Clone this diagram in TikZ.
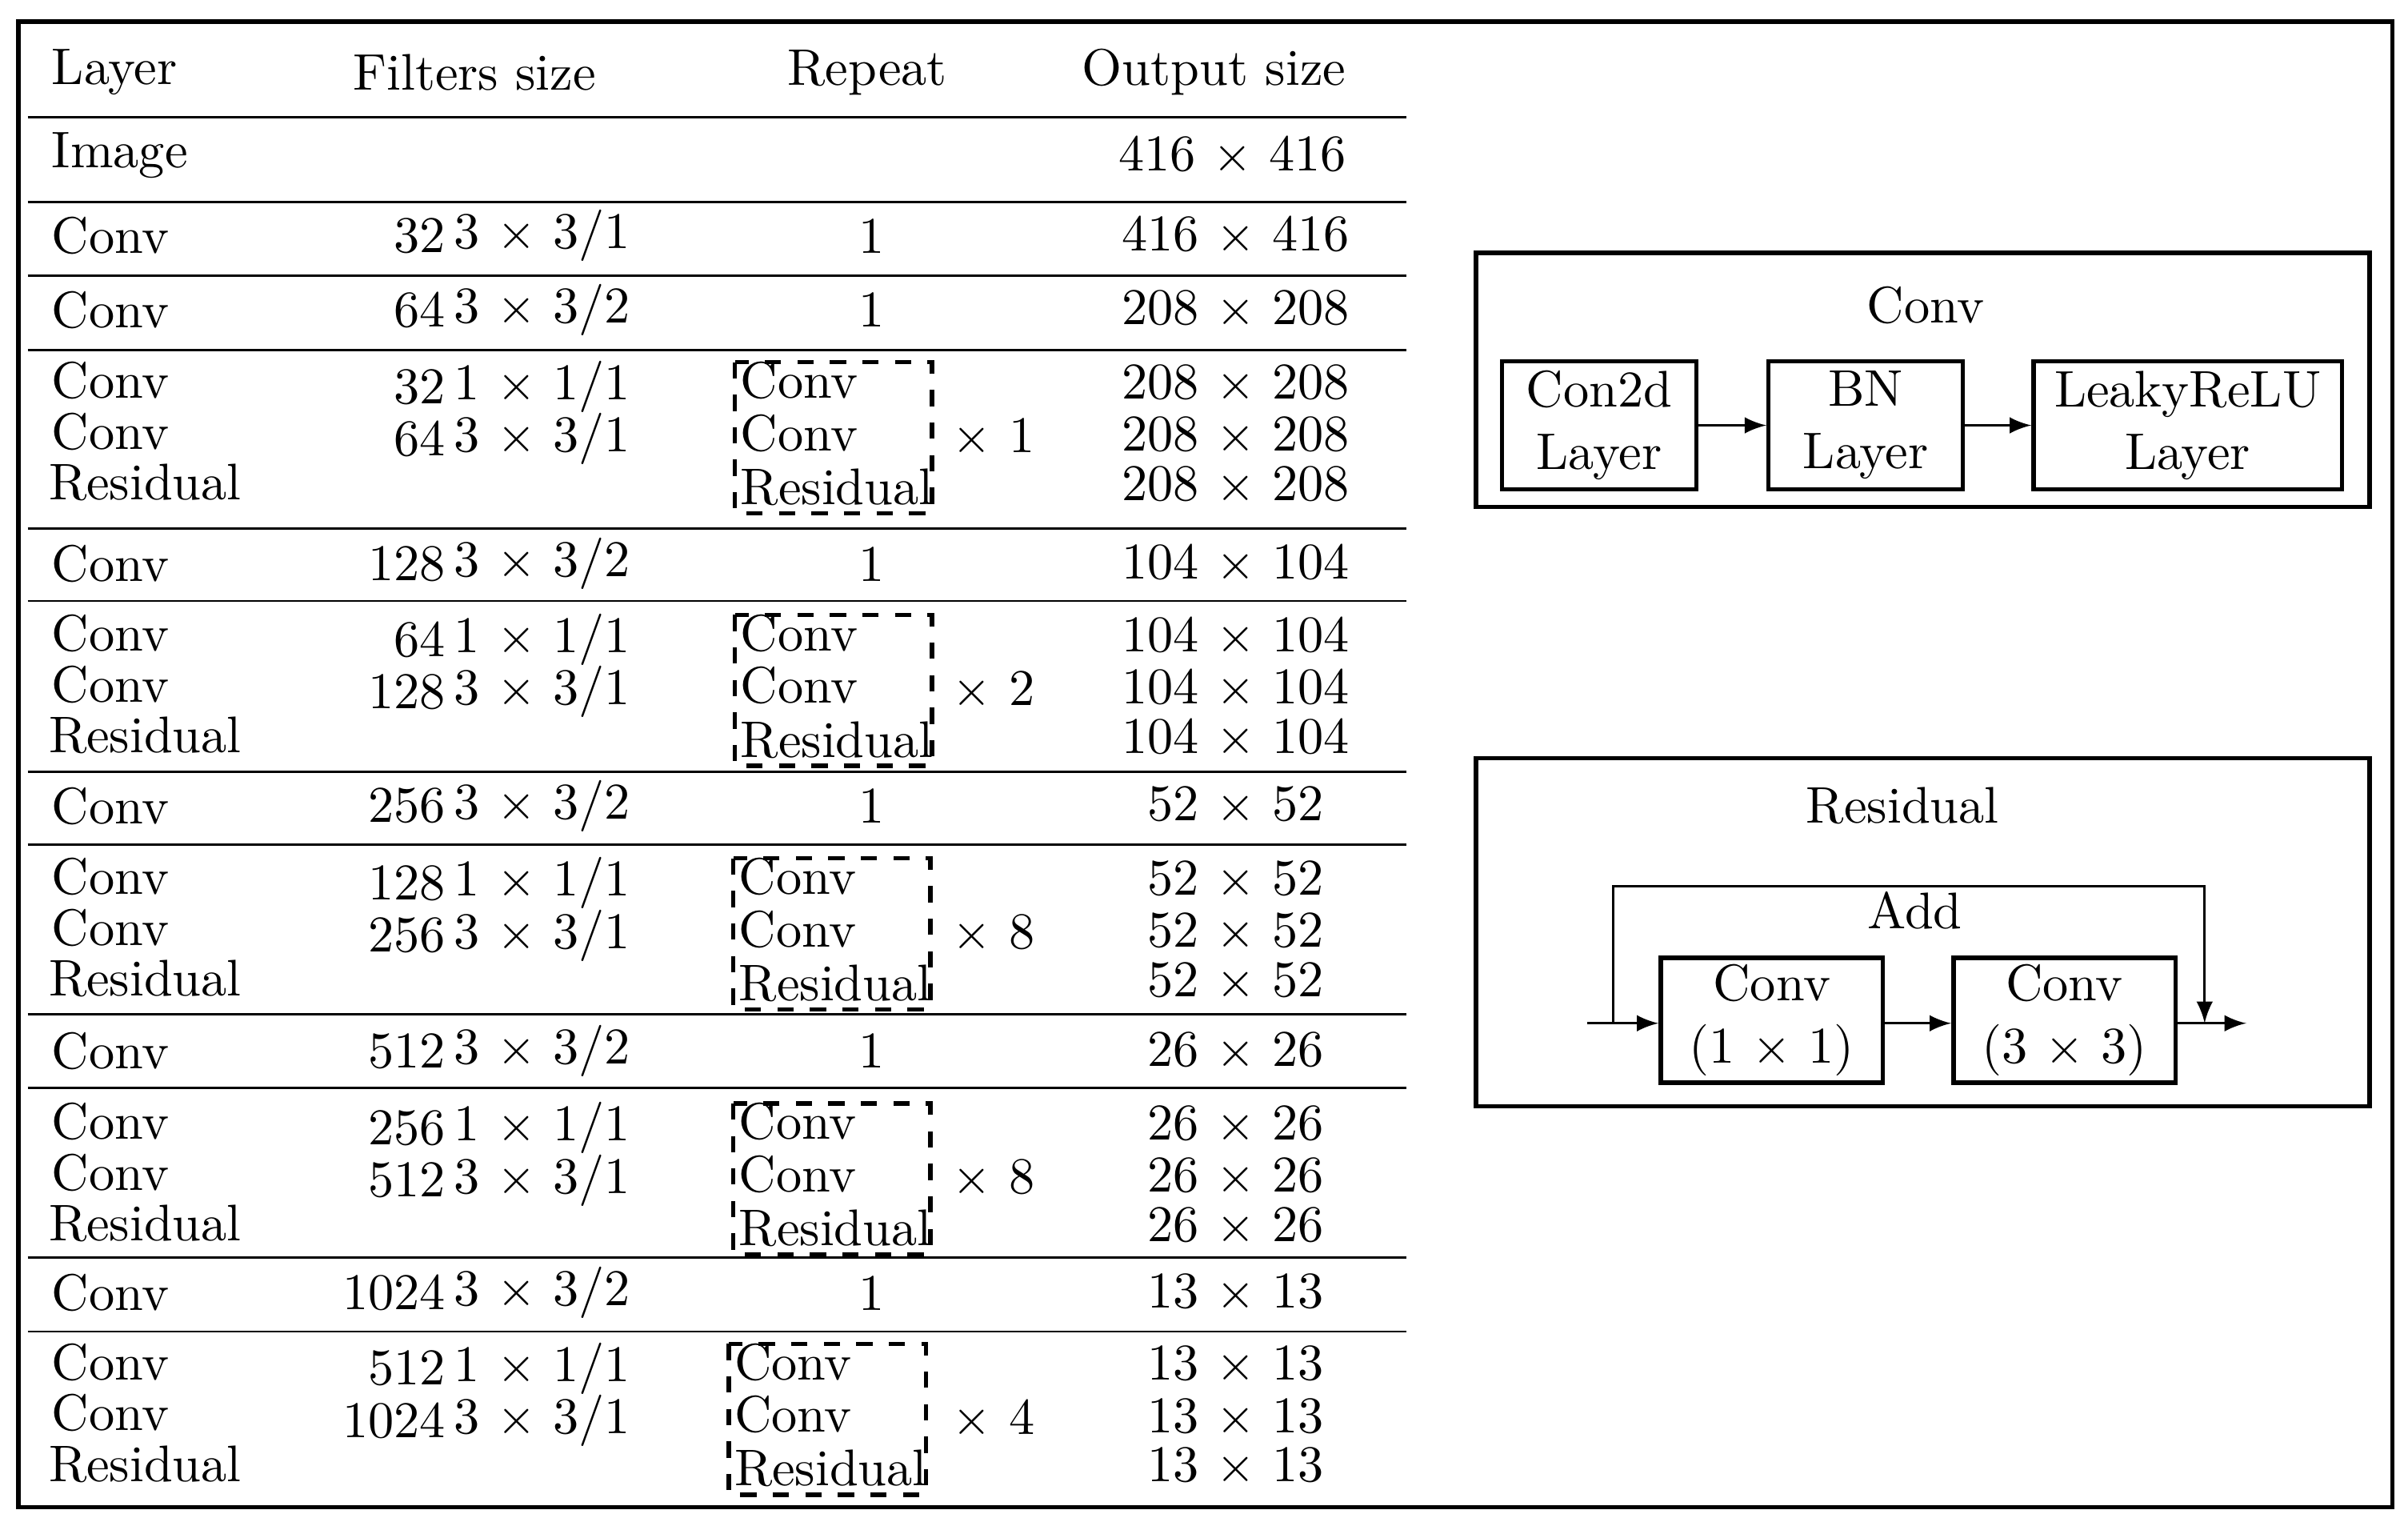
\documentclass[tikz,border=0pt]{standalone}
\usetikzlibrary{positioning}
\tikzset{
  txt/.style={inner sep=0pt, font=\fontsize{9.5}{11.5}\selectfont},
  blk/.style={draw, thick, align=center, inner sep=0pt, font=\fontsize{9.5}{11.5}\selectfont},
  grp/.style={draw, dashed, thick},
  arr/.style={-latex}
}
\newcommand{\mx}{$\times$}
\begin{document}
\begin{tikzpicture}[x=0.01cm, y=-0.01cm]
  \useasboundingbox (0,0) rectangle (1563,990);
  \draw[thick] (12,14) rectangle (1553,978);

  % header
  \node[txt, anchor=west] (hl) at (33,47) {Layer};
  \node[txt] (hf) at (308,47) {Filters size};
  \node[txt] (hr) at (563,47) {Repeat};
  \node[txt] (ho) at (788,47) {Output size};

  % rules
  \foreach \y [count=\i] in {76,131,179,227,343,390,501,548,658,706,816,864}
    \draw (18,\y) -- (913,\y);

  \node[txt, anchor=west] (img) at (33,101) {Image};
  \node[txt] (imgo) at (800,101) {416 \mx{} 416};

  % single conv rows: y, number, stride, output
  \foreach \y/\n/\s/\o [count=\i] in {153/32/1/416, 201/64/2/208, 366/128/2/104,
      523/256/2/52, 682/512/2/26, 839/1024/2/13} {
    \node[txt, anchor=west] (cl\i) at (33,\y) {Conv};
    \node[txt, anchor=east] (cn\i) at (290,\y) {\n};
    \node[txt, anchor=west] (cs\i) at (294,\y) {3 \mx{} 3/\s};
    \node[txt] (cr\i) at (566,\y) {1};
    \node[txt] (co\i) at (802,\y) {\o{} \mx{} \o};
  }

  % residual blocks: top y, n1, n2, repeat, output, box left
  \foreach \y/\a/\b/\r/\o/\bx [count=\i] in {247/32/64/1/208/477, 411/64/128/2/104/477,
      569/128/256/8/52/476, 728/256/512/8/26/476, 884/512/1024/4/13/473} {
    \node[txt, anchor=west] (bl\i a) at (33,\y) {Conv};
    \node[txt, anchor=west] (bl\i b) at (33,\y+33) {Conv};
    \node[txt, anchor=west] (bl\i c) at (31,\y+66) {Residual};
    \node[txt, anchor=east] (bn\i a) at (290,\y+4) {\a};
    \node[txt, anchor=west] (bs\i a) at (294,\y+4) {1 \mx{} 1/1};
    \node[txt, anchor=east] (bn\i b) at (290,\y+38) {\b};
    \node[txt, anchor=west] (bs\i b) at (294,\y+38) {3 \mx{} 3/1};
    \draw[grp] (\bx,\y-12) rectangle (\bx+128,\y+86);
    \node[txt, anchor=west] (bg\i a) at (\bx+3,\y) {Conv};
    \node[txt, anchor=west] (bg\i b) at (\bx+3,\y+34) {Conv};
    \node[txt, anchor=west] (bg\i c) at (\bx+3,\y+69) {Residual};
    \node[txt] (br\i) at (645,\y+37) {\mx{} \r};
    \node[txt] (bo\i a) at (802,\y+2) {\o{} \mx{} \o};
    \node[txt] (bo\i b) at (802,\y+36) {\o{} \mx{} \o};
    \node[txt] (bo\i c) at (802,\y+68) {\o{} \mx{} \o};
  }

  % Conv module
  \draw[thick] (958,164) rectangle (1538,329);
  \node[txt] (convt) at (1250,198) {Conv};
  \node[blk, minimum width=1.26cm, minimum height=0.83cm] (c2d) at (1038,276) {Con2d\\Layer};
  \node[blk, minimum width=1.26cm, minimum height=0.83cm] (bn) at (1211,276) {BN\\Layer};
  \node[blk, minimum width=2cm, minimum height=0.83cm] (relu) at (1420,276) {LeakyReLU\\Layer};
  \draw[arr] (c2d) -- (bn);
  \draw[arr] (bn) -- (relu);

  % Residual module
  \draw[thick] (958,492) rectangle (1538,718);
  \node[txt] (rest) at (1235,523) {Residual};
  \node[blk, minimum width=1.44cm, minimum height=0.81cm] (r1) at (1150,662) {Conv\\(1 \mx{} 1)};
  \node[blk, minimum width=1.44cm, minimum height=0.81cm] (r3) at (1340,662) {Conv\\(3 \mx{} 3)};
  \node[txt] (add) at (1243,591) {Add};
  \coordinate (rin) at (1030,664);
  \coordinate (rsp) at (1047,664);
  \coordinate (rj) at (1431,664);
  \coordinate (rout) at (1458,664);
  \draw[arr] (rin) -- (r1.west |- rin);
  \draw[arr] (r1.east |- rin) -- (r3.west |- rin);
  \draw[arr] (r3.east |- rin) -- (rout);
  \draw[arr] (rsp) -- (1047,575) -- (1431,575) -- (rj);
\end{tikzpicture}
\end{document}
